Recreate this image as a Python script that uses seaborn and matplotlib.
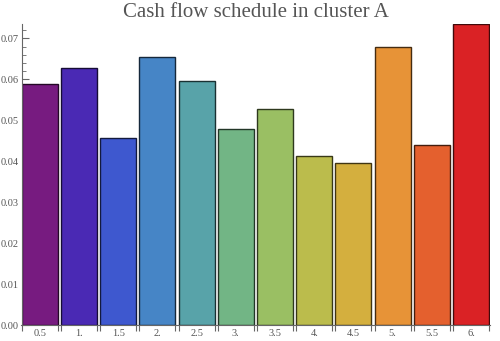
import matplotlib
matplotlib.use("Agg")
import matplotlib.pyplot as plt
import matplotlib.colors as mcolors
import numpy as np
import pandas as pd
import seaborn as sns

# Cash flow schedule data
periods = ["0.5", "1.", "1.5", "2.", "2.5", "3.", "3.5", "4.", "4.5", "5.", "5.5", "6."]
cash_flow = [0.0590, 0.0627, 0.0456, 0.0654, 0.0595, 0.0480,
             0.0527, 0.0412, 0.0395, 0.0680, 0.0441, 0.0734]
bar_colors = ["#771b80", "#4a29b4", "#3e58cf", "#4685c6", "#58a3a9", "#72b585",
              "#9abf63", "#bbbc4c", "#d4af3e", "#e79337", "#e4602e", "#da2225"]
y_ticks = [0.00, 0.01, 0.02, 0.03, 0.04, 0.05, 0.06, 0.07]

df = pd.DataFrame({"period": periods, "value": cash_flow})

sns.set_theme(style="white")
plt.rcParams["font.family"] = ["Liberation Serif", "DejaVu Serif"]

fig = plt.figure(figsize=(5.0, 3.41), dpi=100)
ax = fig.add_axes([0.043, 0.046, 0.936, 0.884])

bar_w = 0.92
sns.barplot(data=df, x="period", y="value", hue="period", palette=bar_colors,
            legend=False, width=bar_w, saturation=1, ax=ax)

for patch, c in zip(ax.patches, bar_colors):
    rgb = np.array(mcolors.to_rgb(c))
    patch.set_edgecolor(tuple(rgb * 0.3))
    patch.set_linewidth(1.0)

ax.set_xlim(-bar_w / 2 - 0.005, len(periods) - 1 + bar_w / 2 + 0.01)
ax.set_ylim(0, 0.07355)

ax.set_xlabel("")
ax.set_ylabel("")
ax.set_title("Cash flow schedule in cluster A", fontsize=15, color="#555555", pad=5)

grey = "#666666"
for side in ["top", "right"]:
    ax.spines[side].set_visible(False)
for side in ["left", "bottom"]:
    ax.spines[side].set_color(grey)
    ax.spines[side].set_linewidth(0.8)

# y axis: labelled ticks every 0.01, minor ticks between, pointing inward
ax.set_yticks(y_ticks)
ax.set_yticklabels([f"{t:.2f}" for t in y_ticks])
ax.set_yticks(np.arange(0, 0.0736, 0.002), minor=True)
ax.tick_params(axis="y", which="major", direction="in", length=5, width=0.8,
               color=grey, labelsize=7.5, labelcolor="#555555", pad=2, left=True)
ax.tick_params(axis="y", which="minor", direction="in", length=3, width=0.6,
               color=grey, left=True)

# x axis: labels at bar centres, short ticks at each bar edge
ax.set_xticks(range(len(periods)))
ax.set_xticklabels(periods)
edges = []
for i in range(len(periods)):
    edges += [i - bar_w / 2, i + bar_w / 2]
ax.set_xticks(edges, minor=True)
ax.tick_params(axis="x", which="major", length=0, labelsize=7.5,
               labelcolor="#555555", pad=3, bottom=True)
ax.tick_params(axis="x", which="minor", direction="out", length=4, width=0.8,
               color=grey, bottom=True)

fig.savefig("out.png", dpi=100)
